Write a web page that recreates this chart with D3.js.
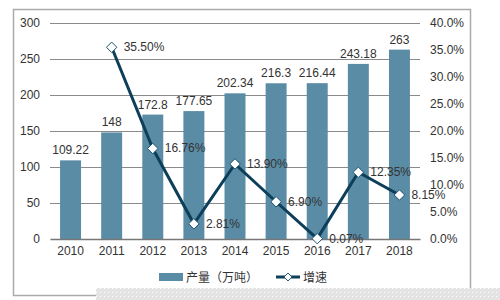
<!DOCTYPE html>
<html>
<head>
<meta charset="utf-8">
<script src="https://cdn.jsdelivr.net/npm/d3@7"></script>
<style>
  body { margin: 0; background: #fff; }
  svg text { font-family: "Liberation Sans", Arial, "Noto Sans CJK SC", sans-serif; fill: #333; }
</style>
</head>
<body>
<div id="chart"></div>
<script>
// data
const years = ["2010", "2011", "2012", "2013", "2014", "2015", "2016", "2017", "2018"];
const output = [109.22, 148, 172.8, 177.65, 202.34, 216.3, 216.44, 243.18, 263];
const growth = [null, 35.50, 16.76, 2.81, 13.90, 6.90, 0.07, 12.35, 8.15];
const leftTicks = [0, 50, 100, 150, 200, 250, 300];
const rightTicks = [0, 5, 10, 15, 20, 25, 30, 35, 40];

const width = 500, height = 300;
const margin = { top: 23, right: 80, bottom: 61, left: 50 };
const barColor = "#5a8ca6", lineColor = "#0d3f5a";

const svg = d3.select("#chart").append("svg")
    .attr("width", width)
    .attr("height", height);

// outer frame
svg.append("rect")
    .attr("x", 13.5).attr("y", 9.5)
    .attr("width", 457).attr("height", 286)
    .attr("fill", "#fff")
    .attr("stroke", "#aaa")
    .attr("stroke-width", 1.5);

// dotted band at the bottom
const defs = svg.append("defs");
const pat = defs.append("pattern")
    .attr("id", "dots")
    .attr("width", 4).attr("height", 4)
    .attr("patternUnits", "userSpaceOnUse");
pat.append("rect").attr("width", 4).attr("height", 4).attr("fill", "#e4e4e4");
pat.append("rect").attr("width", 1).attr("height", 1).attr("fill", "#fff");
svg.append("rect")
    .attr("x", 96).attr("y", 288)
    .attr("width", 404).attr("height", 12)
    .attr("fill", "url(#dots)");

const x = d3.scaleBand()
    .domain(years)
    .range([margin.left, width - margin.right])
    .paddingInner(0.49)
    .paddingOuter(0.245);

const y = d3.scaleLinear()
    .domain([0, 300])
    .range([height - margin.bottom, margin.top]);

const y2 = d3.scaleLinear()
    .domain([0, 40])
    .range([height - margin.bottom, margin.top]);

// gridlines
svg.append("g")
    .selectAll("line")
    .data(leftTicks.slice(1))
    .enter()
    .append("line")
    .attr("x1", margin.left).attr("x2", width - margin.right)
    .attr("y1", d => y(d) + 0.5).attr("y2", d => y(d) + 0.5)
    .attr("stroke", "#8a8a8a")
    .attr("stroke-width", 1);

// left axis labels
svg.append("g")
    .attr("transform", `translate(${margin.left},0)`)
    .call(d3.axisLeft(y).tickValues(leftTicks).tickSize(0).tickPadding(10))
    .call(g => g.select(".domain").remove())
    .call(g => g.selectAll("text").attr("font-size", "12px").attr("fill", "#333"));

// right axis labels
svg.append("g")
    .attr("transform", `translate(${width - margin.right},0)`)
    .call(d3.axisRight(y2).tickValues(rightTicks).tickSize(0).tickPadding(10)
        .tickFormat(d => d.toFixed(1) + "%"))
    .call(g => g.select(".domain").remove())
    .call(g => g.selectAll("text").attr("font-size", "12px").attr("fill", "#333"));

// bars
svg.selectAll(".bar")
    .data(years)
    .enter()
    .append("rect")
    .attr("class", "bar")
    .attr("x", d => x(d))
    .attr("y", (d, i) => y(output[i]))
    .attr("width", x.bandwidth())
    .attr("height", (d, i) => y(0) - y(output[i]))
    .attr("fill", barColor);

// bar labels
svg.selectAll(".blabel")
    .data(years)
    .enter()
    .append("text")
    .attr("class", "blabel")
    .attr("x", d => x(d) + x.bandwidth() / 2)
    .attr("y", (d, i) => y(output[i]) - 6)
    .attr("text-anchor", "middle")
    .attr("font-size", "12px")
    .text((d, i) => output[i]);

// x axis baseline
svg.append("g")
    .attr("transform", `translate(0,${y(0)})`)
    .call(d3.axisBottom(x).tickSize(0).tickPadding(7))
    .call(g => g.select(".domain").attr("stroke", "#777").attr("stroke-width", 1.5))
    .call(g => g.selectAll("text").attr("font-size", "12px").attr("fill", "#333"));

// growth line
const pts = years.map((d, i) => ({ year: d, v: growth[i] })).filter(d => d.v !== null);
const line = d3.line()
    .x(d => x(d.year) + x.bandwidth() / 2)
    .y(d => y2(d.v));

svg.append("path")
    .datum(pts)
    .attr("d", line)
    .attr("fill", "none")
    .attr("stroke", lineColor)
    .attr("stroke-width", 3);

const diamond = d3.symbol().type(d3.symbolDiamond2).size(70);
svg.selectAll(".pt")
    .data(pts)
    .enter()
    .append("path")
    .attr("class", "pt")
    .attr("transform", d => `translate(${x(d.year) + x.bandwidth() / 2},${y2(d.v)})`)
    .attr("d", diamond)
    .attr("fill", "#fff")
    .attr("stroke", "#1a5070")
    .attr("stroke-width", 1);

svg.selectAll(".plabel")
    .data(pts)
    .enter()
    .append("text")
    .attr("class", "plabel")
    .attr("x", d => x(d.year) + x.bandwidth() / 2 + 12)
    .attr("y", d => y2(d.v) + 4)
    .attr("font-size", "12px")
    .text(d => d.v.toFixed(2) + "%");

// legend
const lg = svg.append("g").attr("transform", "translate(0,277)");
lg.append("rect")
    .attr("x", 159).attr("y", -4)
    .attr("width", 24).attr("height", 8)
    .attr("fill", barColor);
lg.append("text")
    .attr("x", 186).attr("y", 5)
    .attr("font-size", "12px")
    .text("产量（万吨）");
lg.append("line")
    .attr("x1", 276).attr("x2", 300)
    .attr("y1", 0).attr("y2", 0)
    .attr("stroke", lineColor)
    .attr("stroke-width", 3);
lg.append("path")
    .attr("transform", "translate(288,0)")
    .attr("d", d3.symbol().type(d3.symbolDiamond2).size(40))
    .attr("fill", "#fff")
    .attr("stroke", "#1a5070");
lg.append("text")
    .attr("x", 303).attr("y", 5)
    .attr("font-size", "12px")
    .text("增速");
</script>
</body>
</html>
